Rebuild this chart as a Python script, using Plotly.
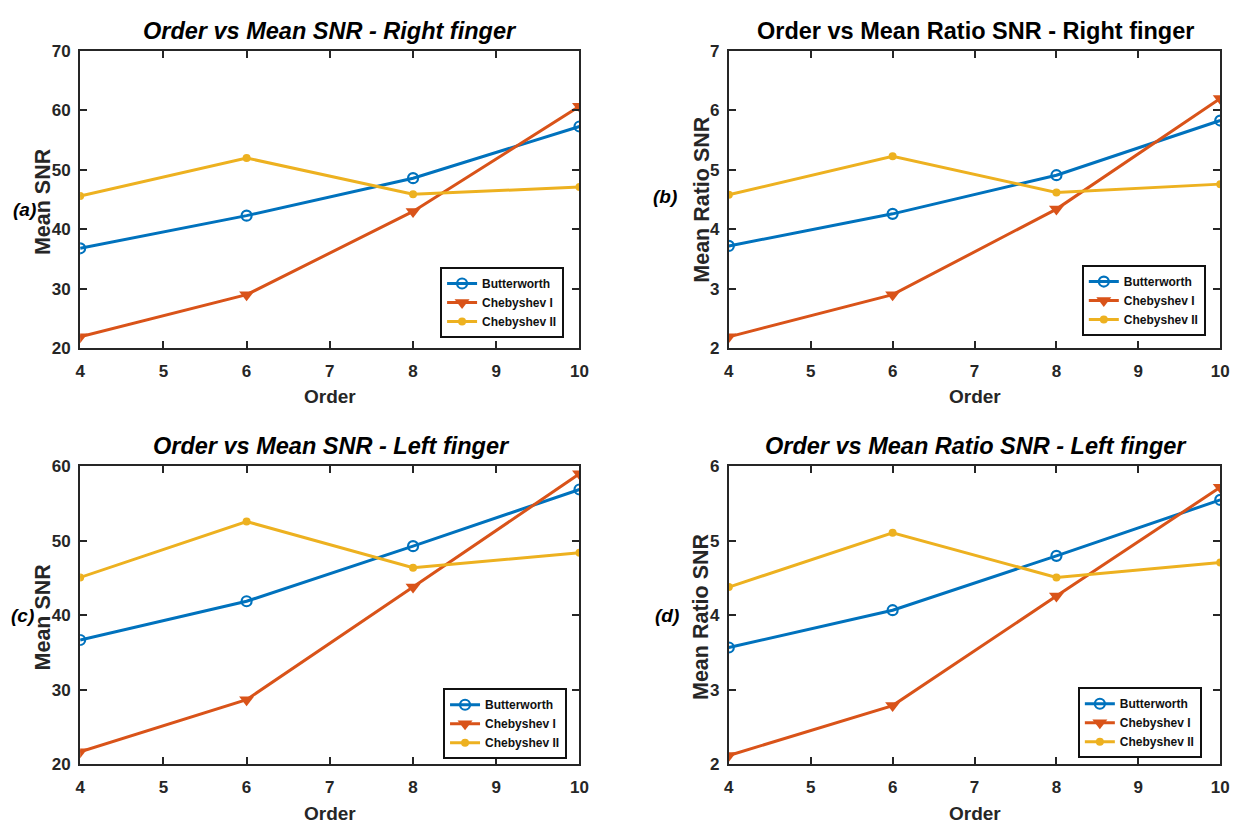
import plotly.graph_objects as go

# Filter order on the x axis
orders = [4, 6, 8, 10]

# Mean SNR - right finger
snr_right_butter = [36.8, 42.3, 48.6, 57.3]
snr_right_cheb1 = [21.9, 29.0, 43.0, 60.7]
snr_right_cheb2 = [45.6, 52.0, 45.9, 47.1]

# Mean ratio SNR - right finger
ratio_right_butter = [3.72, 4.26, 4.91, 5.83]
ratio_right_cheb1 = [2.19, 2.90, 4.34, 6.20]
ratio_right_cheb2 = [4.58, 5.23, 4.62, 4.76]

# Mean SNR - left finger
snr_left_butter = [36.7, 41.9, 49.3, 56.9]
snr_left_cheb1 = [21.7, 28.7, 43.8, 59.0]
snr_left_cheb2 = [45.1, 52.6, 46.4, 48.4]

# Mean ratio SNR - left finger
ratio_left_butter = [3.57, 4.07, 4.80, 5.55]
ratio_left_cheb1 = [2.12, 2.79, 4.26, 5.72]
ratio_left_cheb2 = [4.38, 5.11, 4.51, 4.71]

series_names = ["Butterworth", "Chebyshev I", "Chebyshev II"]
colors = ["#0072BD", "#D95319", "#EDB120"]

W, H = 1251, 838
AX = "#262626"
FONT = "Liberation Sans, Arial, sans-serif"


def px_x(p):
    return p / W


def px_y(p):
    return 1 - p / H


panels = [
    dict(tag="(a)", title="<b><i>Order vs Mean SNR - Right finger</i></b>", ylabel="Mean SNR",
         data=[snr_right_butter, snr_right_cheb1, snr_right_cheb2],
         yrange=[20, 70], ydtick=10,
         x0=76, x1=581, y0=43, y1=347, leg=(440, 264),
         title_xy=(329, 22), tag_xy=(20, 205), ylab_xy=(38, 197)),
    dict(tag="(b)", title="<b>Order vs Mean Ratio SNR - Right finger</b>", ylabel="Mean Ratio SNR",
         data=[ratio_right_butter, ratio_right_cheb1, ratio_right_cheb2],
         yrange=[2, 7], ydtick=1,
         x0=732, x1=1229, y0=43, y1=347, leg=(1089, 262),
         title_xy=(981, 22), tag_xy=(667, 192), ylab_xy=(704, 195)),
    dict(tag="(c)", title="<b><i>Order vs Mean SNR - Left finger</i></b>", ylabel="Mean SNR",
         data=[snr_left_butter, snr_left_cheb1, snr_left_cheb2],
         yrange=[20, 60], ydtick=10,
         x0=76, x1=581, y0=468, y1=773, leg=(443, 695),
         title_xy=(330, 447), tag_xy=(18, 621), ylab_xy=(38, 622)),
    dict(tag="(d)", title="<b><i>Order vs Mean Ratio SNR - Left finger</i></b>", ylabel="Mean Ratio SNR",
         data=[ratio_left_butter, ratio_left_cheb1, ratio_left_cheb2],
         yrange=[2, 6], ydtick=1,
         x0=732, x1=1229, y0=468, y1=773, leg=(1085, 694),
         title_xy=(982, 447), tag_xy=(669, 621), ylab_xy=(704, 622)),
]

markers = [
    dict(symbol="circle-open", size=10, line=dict(width=2.2)),
    dict(symbol="triangle-down", size=13),
    dict(symbol="circle", size=8),
]

fig = go.Figure()
annotations = []
layout = {}

for i, p in enumerate(panels):
    n = "" if i == 0 else str(i + 1)
    xa, ya = "x" + n, "y" + n
    leg = "legend" + n
    for k in range(3):
        fig.add_trace(go.Scatter(
            x=orders, y=p["data"][k], name=series_names[k], mode="lines+markers",
            line=dict(color=colors[k], width=3),
            marker=dict(color=colors[k], **markers[k]),
            xaxis=xa, yaxis=ya, legend=leg, showlegend=True,
        ))
    axis_common = dict(
        showline=True, linecolor=AX, linewidth=2, mirror="allticks",
        ticks="inside", ticklen=7, tickwidth=2, tickcolor=AX,
        showgrid=False, zeroline=False,
        tickfont=dict(family=FONT, size=17, color=AX, weight="bold"),
    )
    layout["xaxis" + n] = dict(
        domain=[px_x(p["x0"]), px_x(p["x1"])], anchor=ya,
        range=[4, 10], tickmode="linear", tick0=4, dtick=1,
        ticklabelstandoff=6, **axis_common)
    layout["yaxis" + n] = dict(
        domain=[px_y(p["y1"]), px_y(p["y0"])], anchor=xa,
        range=p["yrange"], tickmode="linear", tick0=p["yrange"][0], dtick=p["ydtick"],
        ticklabelstandoff=4, **axis_common)
    layout[leg] = dict(
        x=px_x(p["leg"][0]), y=px_y(p["leg"][1]), xanchor="left", yanchor="top",
        xref="paper", yref="paper",
        bgcolor="white", bordercolor="#111111", borderwidth=2,
        font=dict(family=FONT, size=12, color="#111111", weight="bold"),
        tracegroupgap=0, itemwidth=30,
    )
    # panel title
    annotations.append(dict(
        x=px_x(p["title_xy"][0]), y=px_y(p["title_xy"][1]), xref="paper", yref="paper",
        text=p["title"], showarrow=False, xanchor="center", yanchor="middle",
        font=dict(family=FONT, size=23.5, color="black")))
    # x axis title
    annotations.append(dict(
        x=px_x((p["x0"] + p["x1"]) / 2), y=px_y(p["y1"] + 50), xref="paper", yref="paper",
        text="<b>Order</b>", showarrow=False, xanchor="center", yanchor="middle",
        font=dict(family=FONT, size=19, color=AX)))
    # y axis title
    annotations.append(dict(
        x=px_x(p["ylab_xy"][0]), y=px_y(p["ylab_xy"][1]), xref="paper", yref="paper",
        text="<b>" + p["ylabel"] + "</b>", showarrow=False, textangle=-90,
        xanchor="center", yanchor="middle",
        font=dict(family=FONT, size=21.5, color=AX)))
    # panel tag
    annotations.append(dict(
        x=px_x(p["tag_xy"][0]), y=px_y(p["tag_xy"][1]), xref="paper", yref="paper",
        text="<b><i>" + p["tag"] + "</i></b>", showarrow=False,
        xanchor="center", yanchor="middle",
        font=dict(family=FONT, size=19, color="black")))

fig.update_layout(
    width=W, height=H, margin=dict(l=0, r=0, t=0, b=0),
    paper_bgcolor="white", plot_bgcolor="white",
    annotations=annotations, **layout,
)

fig.write_html("out.html")
